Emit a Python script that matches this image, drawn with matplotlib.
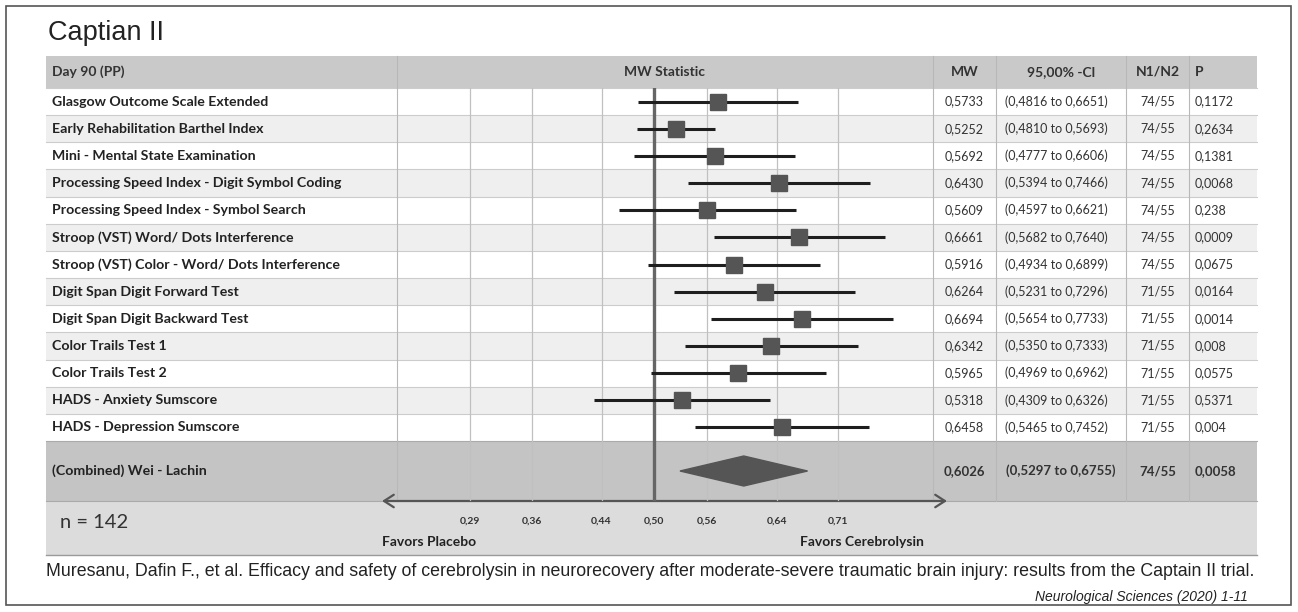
import matplotlib
matplotlib.use('Agg')
import matplotlib.pyplot as plt
from matplotlib.patches import Rectangle, Polygon

# ---- data ----
labels = ['Glasgow Outcome Scale Extended',
          'Early Rehabilitation Barthel Index',
          'Mini - Mental State Examination',
          'Processing Speed Index - Digit Symbol Coding',
          'Processing Speed Index - Symbol Search',
          'Stroop (VST) Word/ Dots Interference',
          'Stroop (VST) Color - Word/ Dots Interference',
          'Digit Span Digit Forward Test',
          'Digit Span Digit Backward Test',
          'Color Trails Test 1',
          'Color Trails Test 2',
          'HADS - Anxiety Sumscore',
          'HADS - Depression Sumscore']
mw = [0.5733, 0.5252, 0.5692, 0.6430, 0.5609, 0.6661, 0.5916,
      0.6264, 0.6694, 0.6342, 0.5965, 0.5318, 0.6458]
ci_lo = [0.4816, 0.4810, 0.4777, 0.5394, 0.4597, 0.5682, 0.4934,
         0.5231, 0.5654, 0.5350, 0.4969, 0.4309, 0.5465]
ci_hi = [0.6651, 0.5693, 0.6606, 0.7466, 0.6621, 0.7640, 0.6899,
         0.7296, 0.7733, 0.7333, 0.6962, 0.6326, 0.7452]
n1n2 = ['74/55'] * 7 + ['71/55'] * 6
pval = [0.1172, 0.2634, 0.1381, 0.0068, 0.238, 0.0009, 0.0675,
        0.0164, 0.0014, 0.008, 0.0575, 0.5371, 0.004]

comb_label = '(Combined) Wei - Lachin'
comb_mw, comb_lo, comb_hi = 0.6026, 0.5297, 0.6755
comb_n, comb_p = '74/55', 0.0058

xticks = [0.29, 0.36, 0.44, 0.50, 0.56, 0.64, 0.71]
xtick_labels = ['0,29', '0,36', '0,44', '0,50', '0,56', '0,64', '0,71']

title = 'Captian II'
caption = ('Muresanu, Dafin F., et al. Efficacy and safety of cerebrolysin in neurorecovery '
           'after moderate-severe traumatic brain injury: results from the Captain II trial.')
journal = 'Neurological Sciences (2020) 1-11'


def comma(v, nd=4):
    return '{:.{}f}'.format(v, nd).replace('.', ',')


# ---- layout in pixels ----
W, H = 1298, 612
tl, tr = 46, 1257               # table left / right
c_plot, c_mw, c_ci, c_n, c_p = 397, 933, 996, 1126, 1189
hdr_top, hdr_bot = 56, 88
comb_top, comb_bot = 441, 501
band_bot = 555
rh = (comb_top - hdr_bot) / len(labels)
px_per_unit = 875.0            # pixels per MW unit
x_half = 654                   # pixel of MW = 0.5

BOLD = 'Lato'
fig = plt.figure(figsize=(W / 100, H / 100), dpi=100)
ax = fig.add_axes([0, 0, 1, 1])
ax.set_xlim(0, W)
ax.set_ylim(H, 0)
ax.axis('off')

# outer frame
ax.add_patch(Rectangle((6, 6), W - 13, H - 13, fill=False, ec='#555555', lw=1.2))
ax.text(48, 33, title, fontsize=19.5, family='Liberation Sans', color='#222222', va='center')

# backgrounds
ax.add_patch(Rectangle((tl, hdr_top), tr - tl, hdr_bot - hdr_top, color='#c9c9c9', lw=0))
for i in range(len(labels)):
    y0 = hdr_bot + i * rh
    fc = '#ffffff' if i % 2 == 0 else '#efefef'
    ax.add_patch(Rectangle((tl, y0), tr - tl, rh, color=fc, lw=0))
    ax.plot([tl, tr], [y0, y0], color='#cccccc', lw=0.8)
ax.add_patch(Rectangle((tl, comb_top), tr - tl, comb_bot - comb_top, color='#c4c4c4', lw=0))
ax.add_patch(Rectangle((tl, comb_bot), tr - tl, band_bot - comb_bot, color='#dcdcdc', lw=0))
ax.plot([tl, tr], [band_bot, band_bot], color='#9a9a9a', lw=1.0)
ax.plot([tl, tr], [comb_top, comb_top], color='#aaaaaa', lw=0.8)
ax.plot([tl, tr], [comb_bot, comb_bot], color='#aaaaaa', lw=0.8)

# column dividers
for xc in [c_plot, c_mw, c_ci, c_n, c_p]:
    ax.plot([xc, xc], [hdr_top, comb_bot], color='#b8b8b8', lw=0.8)

# header
hy = (hdr_top + hdr_bot) / 2
hk = dict(fontsize=10, family=BOLD, weight='bold', color='#333333', va='center')
ax.text(52, hy, 'Day 90 (PP)', **hk)
ax.text((c_plot + c_mw) / 2, hy, 'MW Statistic', ha='center', **hk)
ax.text((c_mw + c_ci) / 2, hy, 'MW', ha='center', **hk)
ax.text((c_ci + c_n) / 2, hy, '95,00% -Cl', ha='center', **hk)
ax.text((c_n + c_p) / 2, hy, 'N1/N2', ha='center', **hk)
ax.text(c_p + 6, hy, 'P', **hk)

# row texts
for i in range(len(labels)):
    yc = hdr_bot + (i + 0.5) * rh
    ax.text(52, yc, labels[i], fontsize=10.2, family=BOLD, weight='bold', color='#222222', va='center')
    nk = dict(fontsize=9, family=BOLD, color='#333333', va='center')
    ax.text((c_mw + c_ci) / 2, yc, comma(mw[i]), ha='center', **nk)
    ax.text((c_ci + c_n) / 2 - 5, yc, '({} to {})'.format(comma(ci_lo[i]), comma(ci_hi[i])), ha='center', **nk)
    ax.text((c_n + c_p) / 2, yc, n1n2[i], ha='center', **nk)
    ax.text(c_p + 6, yc, str(pval[i]).replace('.', ','), **nk)

cy = (comb_top + comb_bot) / 2
ck = dict(fontsize=9.5, family=BOLD, weight='bold', color='#333333', va='center')
ax.text(52, cy, comb_label, fontsize=10.2, family=BOLD, weight='bold', color='#222222', va='center')
ax.text((c_mw + c_ci) / 2, cy, comma(comb_mw), ha='center', **ck)
ax.text((c_ci + c_n) / 2, cy, '({} to {})'.format(comma(comb_lo), comma(comb_hi)), ha='center', **ck)
ax.text((c_n + c_p) / 2, cy, comb_n, ha='center', **ck)
ax.text(c_p + 6, cy, str(comb_p).replace('.', ','), **ck)

# bottom band
ax.annotate('', xy=(382, comb_bot), xytext=(947, comb_bot),
            arrowprops=dict(arrowstyle='<->,head_length=0.7,head_width=0.45',
                            color='#555555', lw=1.6, shrinkA=0, shrinkB=0))
ax.text(60, 522, 'n = 142', fontsize=14.5, family=BOLD, color='#333333', va='center')
ax.text(382, 542, 'Favors Placebo', fontsize=10, family=BOLD, weight='bold', color='#222222', va='center')
ax.text(924, 542, 'Favors Cerebrolysin', fontsize=10, family=BOLD, weight='bold', color='#222222',
        va='center', ha='right')

# caption
ax.text(46, 572, caption, fontsize=12.75, family='Liberation Sans', color='#222222', va='center')
ax.text(1248, 597, journal, fontsize=10, family='Liberation Sans', style='italic',
        color='#222222', va='center', ha='right')

# ---- forest plot axes ----
fx = fig.add_axes([c_plot / W, 1 - comb_bot / H, (c_mw - c_plot) / W, (comb_bot - hdr_bot) / H])
fx.patch.set_alpha(0)
fx.set_xlim(0.5 - (x_half - c_plot) / px_per_unit, 0.5 + (c_mw - x_half) / px_per_unit)
fx.set_ylim(comb_bot, hdr_bot)
for s in fx.spines.values():
    s.set_visible(False)
fx.set_yticks([])
fx.set_xticks(xticks)
fx.set_xticklabels(xtick_labels, fontsize=7.5, family=BOLD, weight='bold', color='#333333')
fx.tick_params(axis='x', length=0, pad=11)

for t in xticks:
    if t != 0.5:
        fx.axvline(t, color='#c0c0c0', lw=0.9, zorder=1)
fx.axvline(0.5, color='#666666', lw=2.4, zorder=2)

yrows = [hdr_bot + (i + 0.5) * rh for i in range(len(labels))]
fx.hlines(yrows, ci_lo, ci_hi, color='#1e1e1e', lw=2.2, zorder=3)
fx.plot(mw, yrows, 's', ms=12, color='#555555', mec='#555555', zorder=4)

dh = 15
fx.add_patch(Polygon([(comb_lo, cy), (comb_mw, cy - dh), (comb_hi, cy), (comb_mw, cy + dh)],
                     closed=True, color='#555555', zorder=4))

fig.savefig('out.png', dpi=100)
